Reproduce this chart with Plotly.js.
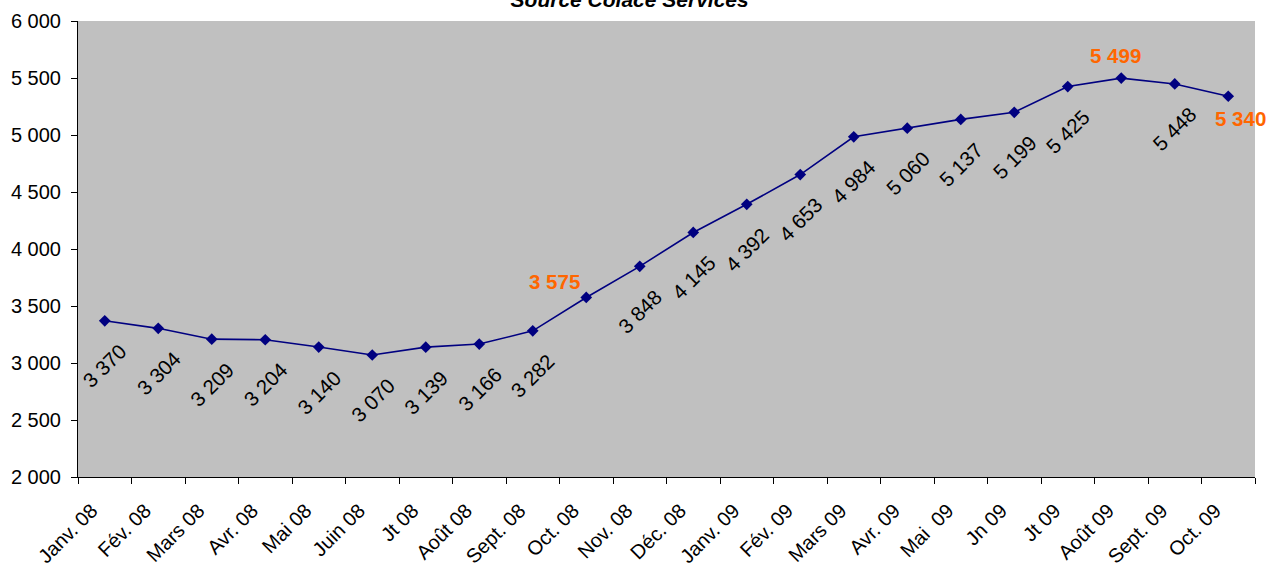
<!DOCTYPE html>
<html>
<head>
<meta charset="utf-8">
<script src="https://cdn.plot.ly/plotly-3.0.1.min.js"></script>
<style>html,body{margin:0;padding:0;background:#fff;}#chart{width:1272px;height:563px;}</style>
</head>
<body>
<div id="chart"></div>
<script>
const months = ['Janv. 08','Fév. 08','Mars 08','Avr. 08','Mai 08','Juin 08','Jt 08','Août 08','Sept. 08','Oct. 08','Nov. 08','Déc. 08','Janv. 09','Fév. 09','Mars 09','Avr. 09','Mai  09','Jn 09','Jt 09','Août 09','Sept. 09','Oct. 09'];
const values = [3370,3304,3209,3204,3140,3070,3139,3166,3282,3575,3848,4145,4392,4653,4984,5060,5137,5199,5425,5499,5448,5340];
const highlighted = ['Oct. 08','Août 09','Oct. 09'];
const titleText = 'Source Colace Services';

const fmt = v => String(v).replace(/\B(?=(\d{3})+(?!\d))/g, ' ');
const FONT = 'Liberation Sans, Arial, sans-serif';

// label placement offsets (pixels) for highlighted labels
const hlShift = {'Oct. 08':[-32,16],'Août 09':[-6,23],'Oct. 09':[12,-22]};

const annotations = months.map((m,i) => {
  if (highlighted.includes(m)) {
    const s = hlShift[m];
    return {x:m, y:values[i], xref:'x', yref:'y', text:fmt(values[i]), showarrow:false,
      xshift:s[0], yshift:s[1], font:{family:FONT, size:20.5, color:'#FF6600', weight:'bold'}};
  }
  return {x:m, y:values[i], xref:'x', yref:'y', text:fmt(values[i]), showarrow:false,
    textangle:-45, yshift:-45, font:{family:FONT, size:20.5, color:'#000000'}};
});

const trace = {
  x: months, y: values, type:'scatter', mode:'lines+markers',
  line:{color:'#000080', width:1.6},
  marker:{symbol:'diamond', size:9, color:'#000080'},
  cliponaxis:false, hoverinfo:'skip'
};

const layout = {
  width:1272, height:563,
  margin:{l:78, r:17, t:21, b:86},
  paper_bgcolor:'#ffffff', plot_bgcolor:'#C0C0C0',
  separators:', ',
  showlegend:false,
  title:{text:'<b><i>'+titleText+'</i></b>', x:0.495, xref:'container', y:1, yref:'container', yanchor:'middle',
    font:{family:FONT, size:21, color:'#000000'}},
  xaxis:{type:'category', tickson:'boundaries', ticks:'outside', ticklen:6, tickcolor:'#000', tickwidth:1,
    showline:true, linecolor:'#000', linewidth:1, showgrid:false, zeroline:false,
    tickangle:-45, tickfont:{family:FONT, size:20, color:'#000'}, ticklabelstandoff:13, ticklabelshift:-13,
    range:[-0.5, months.length-0.5], fixedrange:true},
  yaxis:{range:[2000,6000], dtick:500, tick0:2000, ticks:'outside', ticklen:6, tickcolor:'#000', tickwidth:1,
    showline:true, linecolor:'#000', linewidth:1, showgrid:false, zeroline:false,
    tickformat:',d', tickfont:{family:FONT, size:20, color:'#000'}, ticklabelstandoff:6, fixedrange:true},
  annotations: annotations
};

Plotly.newPlot('chart', [trace], layout, {staticPlot:true, displayModeBar:false});
</script>
</body>
</html>
